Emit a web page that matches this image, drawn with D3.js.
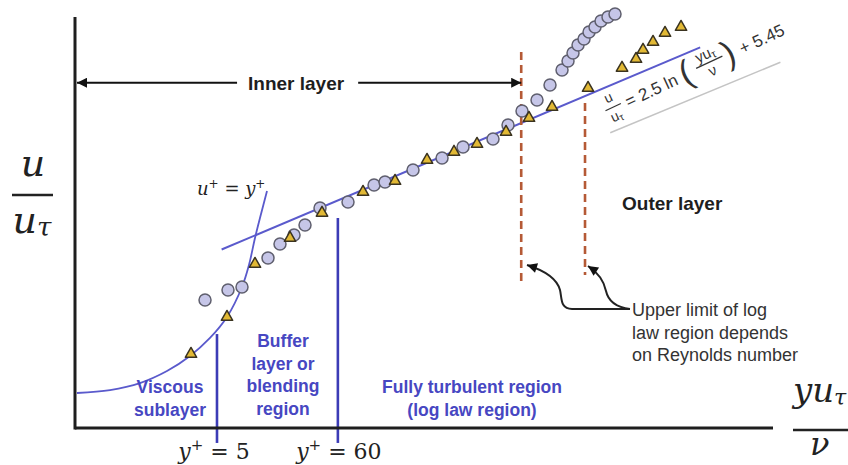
<!DOCTYPE html>
<html>
<head>
<meta charset="utf-8">
<script src="https://cdn.jsdelivr.net/npm/d3@7"></script>
<style>
  html, body { margin: 0; padding: 0; background: #fff; overflow: hidden; }
  svg { display: block; }
</style>
</head>
<body>
<svg id="chart" width="848" height="465"></svg>
<script>
// ---- Data: turbulent boundary-layer velocity profile in wall units ----
// Profile A (circles): wall distance y+ and velocity u+
const circleYPlus = [3.91, 6.27, 8.36, 14.27, 18.26, 24.36, 30.53, 41.56, 73.9, 126.2,
  158.1, 281.2, 510.6, 786, 1456, 1982, 2643, 3597, 4699, 6016,
  6805, 7541, 8358, 9454, 10480, 11850, 13410, 15480, 17880];
const circleUPlus = [3.57, 4.79, 5.15, 8.68, 10.38, 11.48, 12.70, 14.76, 15.49, 17.56,
  17.93, 19.39, 20.85, 22.19, 23.16, 24.86, 26.56, 27.90, 29.73, 31.55,
  32.65, 33.62, 34.59, 35.32, 36.18, 36.78, 37.51, 38.00, 38.36];

// Profile B (triangles)
const triangleYPlus = [2.93, 6.14, 10.92, 22.43, 43.3, 100.6, 194.3, 375, 653, 1048,
  1903, 3052, 4898, 10270, 20650, 27540, 31800, 39060, 49970, 69450];
const triangleUPlus = [-3.00, 1.50, 7.95, 11.11, 14.16, 16.71, 18.05, 20.60, 21.58, 22.55,
  24.01, 25.71, 27.05, 29.36, 31.80, 32.89, 33.99, 34.96, 36.05, 36.78];

// Viscous sublayer curve (u+ = y+ branch)
const viscousYPlus = [0.2813, 0.5545, 1.027, 1.789, 2.871, 4.33, 6.14, 8.36, 9.65, 10.92, 12.36, 13.98];
const viscousUPlus = [-7.74, -7.38, -6.53, -5.07, -3.24, -1.05, 1.50, 5.15, 7.83, 11.11, 14.03, 16.83];

// Log law u+ = 2.5 ln(y+) + 5.45, drawn over this y+ range
const logLawSlope = 2.5;
const logLawIntercept = 5.45;
const logLawRange = [5.5, 103000];

// Region boundaries y+ = 5 and y+ = 60 (vertical blue lines)
const regionBounds = [5, 60];
const regionBoundTop = [-0.57, 13.55];
const regionBoundBottom = -13.82;

// Reynolds-number-dependent upper limits of the log region (dashed)
const upperLimitYPlus = [2600, 9650];
const upperLimitTop = [33.74, 27.54];
const upperLimitBottom = [5.76, 6.61];

// Axis extents
const xDomain = [0.27, 460000];
const yDomain = [-12, 38];

// ---- Scales ----
const x = d3.scaleLog().domain(xDomain).range([75, 773]);
const y = d3.scaleLinear().domain(yDomain).range([428, 17]);

const svg = d3.select("#chart");
const ink = "#1e1e1e";
const lineBlue = "#5a5acc";
const boundBlue = "#3c3cb6";
const labelBlue = "#4747c2";
const sans = "'Liberation Sans', Arial, sans-serif";
const serif = "'DejaVu Serif', serif";

// Arrowhead markers
const defs = svg.append("defs");
function addArrow(id, w, h) {
  defs.append("marker")
    .attr("id", id)
    .attr("viewBox", "0 0 10 10")
    .attr("refX", 10).attr("refY", 5)
    .attr("markerUnits", "userSpaceOnUse")
    .attr("markerWidth", w).attr("markerHeight", h)
    .attr("orient", "auto")
    .append("path").attr("d", "M0,0 L10,5 L0,10 Z").attr("fill", "#111");
}
addArrow("arrowBig", 14, 10);
addArrow("arrowSmall", 13, 10);

// ---- Log-law line ----
const logLawPts = logLawRange.map(v => [v, logLawSlope * Math.log(v) + logLawIntercept]);
svg.append("path")
  .attr("d", d3.line().x(d => x(d[0])).y(d => y(d[1]))(logLawPts))
  .attr("fill", "none").attr("stroke", lineBlue).attr("stroke-width", 2);

// ---- Viscous sublayer curve ----
const viscousPts = viscousYPlus.map((v, i) => [v, viscousUPlus[i]]);
svg.append("path")
  .attr("d", d3.line().x(d => x(d[0])).y(d => y(d[1])).curve(d3.curveCatmullRom)(viscousPts))
  .attr("fill", "none").attr("stroke", lineBlue).attr("stroke-width", 1.8);

// ---- Region boundaries ----
regionBounds.forEach((v, i) => {
  svg.append("line")
    .attr("x1", x(v)).attr("x2", x(v))
    .attr("y1", y(regionBoundTop[i])).attr("y2", y(regionBoundBottom))
    .attr("stroke", boundBlue).attr("stroke-width", 2.6);
});

// ---- Dashed upper limits ----
upperLimitYPlus.forEach((v, i) => {
  svg.append("line")
    .attr("x1", x(v)).attr("x2", x(v))
    .attr("y1", y(upperLimitTop[i])).attr("y2", y(upperLimitBottom[i]))
    .attr("stroke", "#b55a36").attr("stroke-width", 2.6)
    .attr("stroke-dasharray", "8,5");
});

// ---- Axes (frame lines) ----
svg.append("line")
  .attr("x1", x(xDomain[0])).attr("x2", x(xDomain[0]))
  .attr("y1", y(yDomain[1])).attr("y2", y(yDomain[0]) + 1.5)
  .attr("stroke", ink).attr("stroke-width", 3);
svg.append("line")
  .attr("x1", x(xDomain[0])).attr("x2", x(xDomain[1]))
  .attr("y1", y(yDomain[0])).attr("y2", y(yDomain[0]))
  .attr("stroke", ink).attr("stroke-width", 3);

// ---- Data markers ----
svg.append("g").selectAll("circle")
  .data(circleYPlus.map((v, i) => [v, circleUPlus[i]]))
  .join("circle")
  .attr("cx", d => x(d[0])).attr("cy", d => y(d[1]))
  .attr("r", 6)
  .attr("fill", "#c6c6e8").attr("stroke", "#5f5f6e").attr("stroke-width", 1.5);

const tri = d3.symbol().type(d3.symbolTriangle).size(56);
svg.append("g").selectAll("path")
  .data(triangleYPlus.map((v, i) => [v, triangleUPlus[i]]))
  .join("path")
  .attr("d", tri)
  .attr("transform", d => `translate(${x(d[0])},${y(d[1])})`)
  .attr("fill", "#e2b935").attr("stroke", "#3a3320").attr("stroke-width", 1.5)
  .attr("stroke-linejoin", "round");

// ---- Inner layer double arrow ----
const innerY = y(30);
const innerLeft = x(xDomain[0]) + 2;
const innerRight = x(upperLimitYPlus[0]);
const innerMid = (innerLeft + innerRight) / 2 - 3;
const innerLabel = svg.append("text")
  .attr("x", innerMid).attr("y", innerY + 7)
  .attr("text-anchor", "middle")
  .attr("font-family", sans).attr("font-weight", "bold").attr("font-size", 19)
  .attr("fill", ink).text("Inner layer");
const innerW = innerLabel.node().getComputedTextLength();
svg.append("line")
  .attr("x1", innerMid - innerW / 2 - 11).attr("x2", innerLeft)
  .attr("y1", innerY).attr("y2", innerY)
  .attr("stroke", "#111").attr("stroke-width", 2).attr("marker-end", "url(#arrowBig)");
svg.append("line")
  .attr("x1", innerMid + innerW / 2 + 14).attr("x2", innerRight)
  .attr("y1", innerY).attr("y2", innerY)
  .attr("stroke", "#111").attr("stroke-width", 2).attr("marker-end", "url(#arrowBig)");

// ---- Outer layer label ----
svg.append("text")
  .attr("x", 622).attr("y", 210)
  .attr("font-family", sans).attr("font-weight", "bold").attr("font-size", 19)
  .attr("fill", ink).text("Outer layer");

// ---- Region labels ----
function multiline(lines, cx, baseline, lh) {
  const t = svg.append("text")
    .attr("text-anchor", "middle")
    .attr("font-family", sans).attr("font-weight", "bold").attr("font-size", 17.5)
    .attr("fill", labelBlue);
  lines.forEach((s, i) => {
    t.append("tspan").attr("x", cx).attr("y", baseline + i * lh).text(s);
  });
}
multiline(["Viscous", "sublayer"], 170, 393, 22.5);
multiline(["Buffer", "layer or", "blending", "region"], 283, 347, 22.5);
multiline(["Fully turbulent region", "(log law region)"], 472, 393, 22.5);

// ---- Reynolds number note with curved arrows ----
const note = svg.append("text")
  .attr("font-family", sans).attr("font-size", 18).attr("fill", "#333");
["Upper limit of log", "law region depends", "on Reynolds number"].forEach((s, i) => {
  note.append("tspan").attr("x", 632).attr("y", 316 + i * 22.5).text(s);
});
svg.append("path")
  .attr("d", "M630,309 L572,309 C560,309 562,298 560,290 C557,279 546,271 527,265")
  .attr("fill", "none").attr("stroke", "#222").attr("stroke-width", 2)
  .attr("marker-end", "url(#arrowSmall)");
svg.append("path")
  .attr("d", "M630,309 C614,307 608,300 606,291 C604,281 597,272 588,266")
  .attr("fill", "none").attr("stroke", "#222").attr("stroke-width", 2)
  .attr("marker-end", "url(#arrowSmall)");

// ---- u+ = y+ label ----
const uy = svg.append("text")
  .attr("x", 197).attr("y", 195)
  .attr("font-family", serif).attr("font-size", 18).attr("fill", "#222");
uy.append("tspan").attr("font-style", "italic").text("u");
uy.append("tspan").attr("font-size", 12).attr("dy", -7).text("+");
uy.append("tspan").attr("dy", 7).text(" = ");
uy.append("tspan").attr("font-style", "italic").text("y");
uy.append("tspan").attr("font-size", 12).attr("dy", -7).text("+");

// ---- y+ boundary labels under the axis ----
function yPlusLabel(xc, value) {
  const t = svg.append("text")
    .attr("x", xc).attr("y", 459)
    .attr("text-anchor", "middle")
    .attr("font-family", serif).attr("font-size", 22).attr("fill", "#222");
  t.append("tspan").attr("font-style", "italic").text("y");
  t.append("tspan").attr("font-size", 15).attr("dy", -9).text("+");
  t.append("tspan").attr("dy", 9).text(" = " + value);
}
yPlusLabel(x(regionBounds[0]) - 3, regionBounds[0]);
yPlusLabel(x(regionBounds[1]) + 1, regionBounds[1]);

// ---- Axis titles ----
const mathStyle = t => t.attr("font-family", serif).attr("font-style", "italic").attr("fill", "#222");
mathStyle(svg.append("text")).attr("x", 33).attr("y", 176).attr("text-anchor", "middle")
  .attr("font-size", 38).text("u");
svg.append("line").attr("x1", 12).attr("x2", 53).attr("y1", 195).attr("y2", 195)
  .attr("stroke", "#222").attr("stroke-width", 2.5);
const yDen = mathStyle(svg.append("text")).attr("x", 32).attr("y", 233).attr("text-anchor", "middle")
  .attr("font-size", 38);
yDen.append("tspan").text("u");
yDen.append("tspan").attr("font-size", 26).attr("dy", 3).text("τ");

const xNum = mathStyle(svg.append("text")).attr("x", 793).attr("y", 402).attr("font-size", 34);
xNum.append("tspan").text("yu");
xNum.append("tspan").attr("font-size", 22).attr("dy", 3).text("τ");
svg.append("line").attr("x1", 793).attr("x2", 848).attr("y1", 430).attr("y2", 430)
  .attr("stroke", "#222").attr("stroke-width", 2.5);
mathStyle(svg.append("text")).attr("x", 810).attr("y", 455).attr("font-size", 32).text("ν");

// ---- Log-law equation, written along the line ----
const eq = svg.append("g").attr("transform", "translate(605,112) rotate(-25)")
  .attr("font-family", sans).attr("fill", "#333");
eq.append("line").attr("x1", -4).attr("y1", 21).attr("x2", 180).attr("y2", 29)
  .attr("stroke", "#c4c4c4").attr("stroke-width", 1.5);
eq.append("text").attr("x", 9).attr("y", -7).attr("text-anchor", "middle")
  .attr("font-size", 14).text("u");
eq.append("line").attr("x1", 1).attr("x2", 18).attr("y1", -1).attr("y2", -1)
  .attr("stroke", "#333").attr("stroke-width", 1.2);
const eqDen = eq.append("text").attr("x", 9).attr("y", 13).attr("text-anchor", "middle")
  .attr("font-size", 14);
eqDen.append("tspan").text("u");
eqDen.append("tspan").attr("font-size", 10).attr("dy", 2).text("τ");
eq.append("text").attr("x", 23).attr("y", 6).attr("font-size", 17)
  .text(`= ${logLawSlope} ln`);
eq.append("text").attr("x", 84).attr("y", 10).attr("font-size", 34).text("(");
const eqNum2 = eq.append("text").attr("x", 115).attr("y", -5).attr("text-anchor", "middle")
  .attr("font-size", 15);
eqNum2.append("tspan").text("yu");
eqNum2.append("tspan").attr("font-size", 11).attr("dy", 2).text("τ");
eq.append("line").attr("x1", 101).attr("x2", 130).attr("y1", -1).attr("y2", -1)
  .attr("stroke", "#333").attr("stroke-width", 1.2);
eq.append("text").attr("x", 115).attr("y", 13).attr("text-anchor", "middle")
  .attr("font-size", 15).text("ν");
eq.append("text").attr("x", 131).attr("y", 10).attr("font-size", 34).text(")");
eq.append("text").attr("x", 149).attr("y", 6).attr("font-size", 17)
  .text(`+ ${logLawIntercept}`);
</script>
</body>
</html>
